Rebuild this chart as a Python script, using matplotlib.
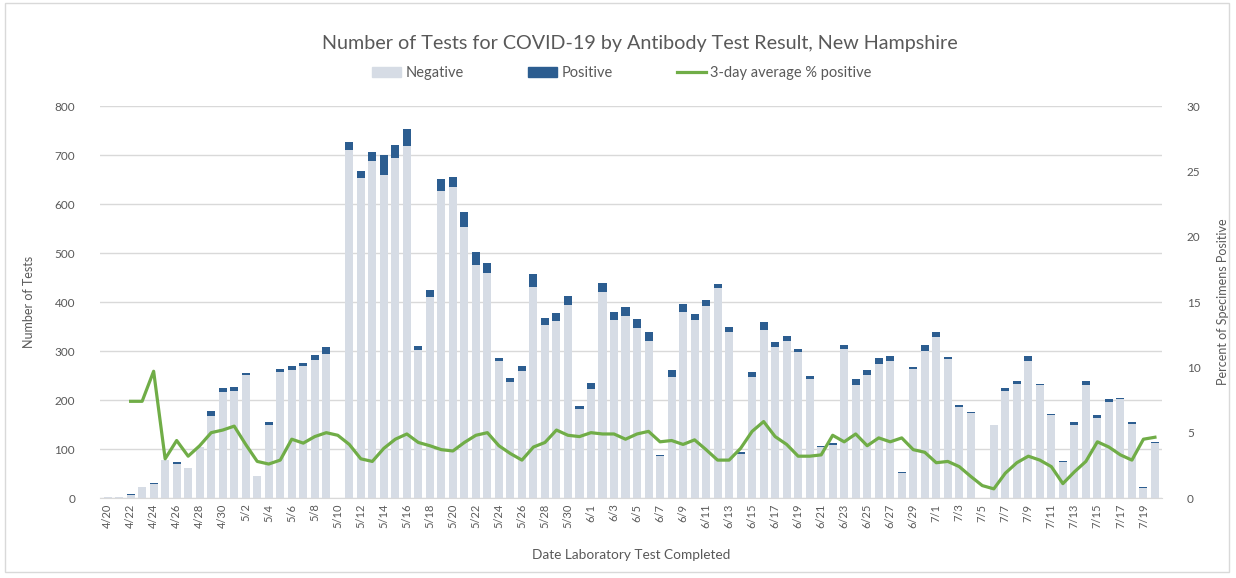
import numpy as np
import pandas as pd
import matplotlib
matplotlib.use("Agg")
import matplotlib.pyplot as plt
from matplotlib.patches import Patch, Rectangle
from matplotlib.lines import Line2D

plt.rcParams['font.family'] = ['Lato', 'DejaVu Sans']

# ---- data ----
dates = pd.date_range("2020-04-20", "2020-07-20", freq="D")
date_labels = [f"{d.month}/{d.day}" for d in dates]

total_tests = [
    2, 3, 9, 23, 30, 78, 73, 62, 105, 178, 225,            # 4/20 - 4/30
    226, 256, 44, 155, 264, 270, 276, 292, 308, 0,          # 5/1 - 5/10
    727, 668, 707, 699, 721, 753, 310, 425, 651, 656,       # 5/11 - 5/20
    583, 502, 480, 286, 245, 269, 458, 368, 377, 412, 188,  # 5/21 - 5/31
    234, 438, 380, 389, 365, 338, 88, 261, 396, 376,        # 6/1 - 6/10
    404, 436, 348, 94, 258, 359, 319, 330, 305, 249,        # 6/11 - 6/20
    107, 113, 312, 242, 261, 285, 290, 54, 267, 312,        # 6/21 - 6/30
    339, 288, 190, 175, 0, 150, 224, 238, 290, 233,         # 7/1 - 7/10
    172, 75, 156, 238, 170, 203, 205, 156, 22, 115,         # 7/11 - 7/20
]
positive = [
    0, 0, 2, 0, 1, 0, 3, 0, 0, 10, 8,
    8, 4, 0, 5, 6, 8, 7, 10, 14, 0,
    17, 14, 20, 40, 28, 34, 7, 14, 24, 22,
    30, 27, 20, 7, 9, 9, 27, 14, 16, 18, 7,
    12, 17, 16, 17, 18, 17, 2, 14, 16, 12,
    12, 8, 10, 5, 12, 16, 10, 10, 8, 7,
    2, 5, 7, 12, 10, 11, 10, 3, 3, 11,
    10, 4, 4, 2, 0, 2, 5, 6, 10, 3,
    3, 1, 6, 8, 6, 7, 3, 5, 1, 3,
]
pct_positive_3day = [
    np.nan, np.nan, 7.4, 7.4, 9.7, 3.0, 4.4, 3.2, 4.0, 5.0, 5.2,
    5.5, 4.1, 2.8, 2.6, 2.9, 4.5, 4.2, 4.7, 5.0, 4.8,
    4.1, 3.0, 2.8, 3.8, 4.5, 4.9, 4.25, 4.0, 3.7, 3.6,
    4.25, 4.8, 5.0, 4.0, 3.4, 2.9, 3.9, 4.25, 5.2, 4.8, 4.7,
    5.0, 4.9, 4.9, 4.5, 4.9, 5.1, 4.3, 4.4, 4.1, 4.45,
    3.7, 2.9, 2.9, 3.8, 5.1, 5.85, 4.7, 4.1, 3.2, 3.2,
    3.3, 4.8, 4.3, 4.9, 4.0, 4.6, 4.3, 4.6, 3.7, 3.5,
    2.7, 2.8, 2.4, 1.65, 0.95, 0.7, 1.9, 2.7, 3.2, 2.9,
    2.4, 1.1, 2.0, 2.8, 4.3, 3.9, 3.3, 2.9, 4.5, 4.65,
]

negative = [t - p for t, p in zip(total_tests, positive)]

NEG_COLOR = "#d6dce5"
POS_COLOR = "#2c5d90"
LINE_COLOR = "#70ad47"
TEXT_COLOR = "#595959"
GRID_COLOR = "#d9d9d9"

# ---- figure ----
fig = plt.figure(figsize=(12.36, 5.78), dpi=100)
ax = fig.add_axes([0.081, 0.1384, 0.859, 0.6782])
x = np.arange(len(dates))

ax.bar(x, negative, width=0.7, color=NEG_COLOR, zorder=2)
ax.bar(x, positive, width=0.7, bottom=negative, color=POS_COLOR, zorder=2)

ax.set_xlim(-0.65, len(dates) - 0.4)
ax.set_ylim(0, 800)
ax.set_yticks(range(0, 801, 100))
ax.grid(axis="y", color=GRID_COLOR, linewidth=1, zorder=0)
ax.set_axisbelow(True)
for s in ["top", "left", "right"]:
    ax.spines[s].set_visible(False)
ax.spines["bottom"].set_color(GRID_COLOR)

ax.set_xticks(x[::2])
ax.set_xticklabels(date_labels[::2], rotation=90, fontsize=8, color=TEXT_COLOR)
ax.tick_params(axis="x", length=0, pad=4)
ax.tick_params(axis="y", length=0, labelsize=8.5, labelcolor=TEXT_COLOR, pad=18)
ax.set_ylabel("Number of Tests", fontsize=9, color=TEXT_COLOR, labelpad=14)
ax.set_xlabel("Date Laboratory Test Completed", fontsize=9.8, color=TEXT_COLOR, labelpad=15)

ax2 = ax.twinx()
ax2.plot(x, pct_positive_3day, color=LINE_COLOR, linewidth=2.3, zorder=3)
ax2.set_ylim(0, 30)
ax2.set_yticks(range(0, 31, 5))
for s in ["top", "left", "right", "bottom"]:
    ax2.spines[s].set_visible(False)
ax2.tick_params(axis="y", length=0, labelsize=8.5, labelcolor=TEXT_COLOR, pad=18)
ax2.set_ylabel("Percent of Specimens Positive", fontsize=9, color=TEXT_COLOR, labelpad=12)

fig.text(0.518, 0.925, "Number of Tests for COVID-19 by Antibody Test Result, New Hampshire",
         ha="center", va="center", fontsize=14.2, color=TEXT_COLOR)

handles = [Patch(color=NEG_COLOR), Patch(color=POS_COLOR),
           Line2D([0], [0], color=LINE_COLOR, linewidth=2.3)]
fig.legend(handles, ["Negative", "Positive", "3-day average % positive"],
           loc="center", bbox_to_anchor=(0.503, 0.873), ncol=3, frameon=False,
           fontsize=10.5, labelcolor=TEXT_COLOR, handlelength=2.0, handleheight=0.7,
           handletextpad=0.3, columnspacing=4.4)

fig.add_artist(Rectangle((0.004, 0.01), 0.99, 0.985, transform=fig.transFigure,
                         fill=False, edgecolor=GRID_COLOR, linewidth=1))

fig.savefig("out.png", dpi=100)
